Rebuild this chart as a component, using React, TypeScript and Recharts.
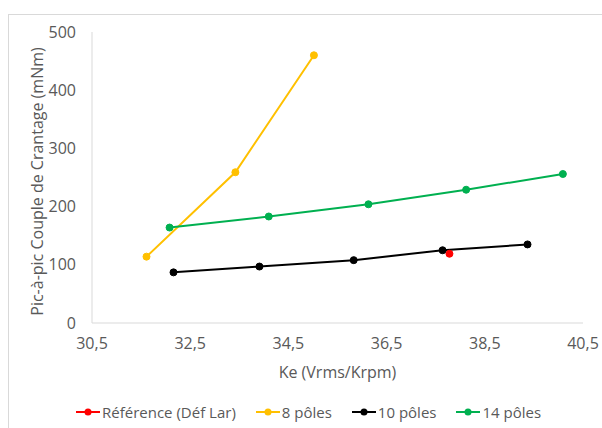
import React from "react";
import { LineChart, Line, XAxis, YAxis, Label } from "recharts";

const xTicks = [30.5, 32.5, 34.5, 36.5, 38.5, 40.5];
const yTicks = [0, 100, 200, 300, 400, 500];

const refX = [37.78];
const refY = [119];
const p8X = [31.61, 33.42, 35.02];
const p8Y = [114, 259, 460];
const p10X = [32.16, 33.91, 35.83, 37.64, 39.37];
const p10Y = [87, 97, 108, 125, 135];
const p14X = [32.08, 34.1, 36.13, 38.12, 40.09];
const p14Y = [164, 183, 204, 229, 256];

const zip = (xs: number[], ys: number[]) => xs.map((x, i) => ({ x, y: ys[i] }));

const series = [
  { name: "Référence (Déf Lar)", color: "#FF0000", data: zip(refX, refY) },
  { name: "8 pôles", color: "#FFC000", data: zip(p8X, p8Y) },
  { name: "10 pôles", color: "#000000", data: zip(p10X, p10Y) },
  { name: "14 pôles", color: "#00B050", data: zip(p14X, p14Y) },
];

const FONT = "'Open Sans', sans-serif";
const TEXT = "#595959";

export default function App() {
  return (
    <div style={{ position: "absolute", left: 0, top: 0, width: 602, height: 428, overflow: "hidden", background: "#fff", fontFamily: FONT }}>
      <div style={{ position: "absolute", left: 8, top: 14, width: 600, height: 420, border: "1px solid #d9d9d9" }} />
      <div style={{ position: "absolute", left: 0, top: 0 }}>
        <LineChart width={602} height={428} margin={{ top: 32, right: 19, bottom: 45, left: 0 }}>
          <XAxis
            type="number"
            dataKey="x"
            domain={[30.5, 40.5]}
            ticks={xTicks}
            tickFormatter={(v: number) => v.toFixed(1).replace(".", ",")}
            axisLine={{ stroke: "#d9d9d9" }}
            tickLine={false}
            tickMargin={9}
            height={60}
            tick={{ fill: TEXT, fontSize: 16, fontFamily: FONT }}
            allowDataOverflow
          >
            <Label value="Ke (Vrms/Krpm)" position="insideBottom" offset={5} fill={TEXT} fontSize={16} fontFamily={FONT} />
          </XAxis>
          <YAxis
            type="number"
            dataKey="y"
            domain={[0, 500]}
            ticks={yTicks}
            axisLine={{ stroke: "#d9d9d9" }}
            tickLine={false}
            tickMargin={10}
            width={92}
            tick={{ fill: TEXT, fontSize: 16, fontFamily: FONT }}
          >
            <Label value="Pic-à-pic Couple de Crantage (mNm)" angle={-90} position="center" dx={-9} dy={4} fill={TEXT} fontSize={16} fontFamily={FONT} />
          </YAxis>
          {series.map((s) => (
            <Line
              key={s.name}
              data={s.data}
              dataKey="y"
              name={s.name}
              stroke={s.color}
              strokeWidth={2}
              dot={{ r: 3.5, fill: s.color, stroke: s.color, strokeWidth: 1 }}
              isAnimationActive={false}
            />
          ))}
        </LineChart>
      </div>
      <div style={{ position: "absolute", left: 76, top: 401, display: "flex", alignItems: "center", gap: 20, color: TEXT, fontSize: 15, height: 22 }}>
        {series.map((s) => (
          <div key={s.name} style={{ display: "flex", alignItems: "center" }}>
            <svg width={24} height={10} style={{ marginRight: 2 }}>
              <line x1={0} y1={5} x2={24} y2={5} stroke={s.color} strokeWidth={2} />
              <circle cx={12} cy={5} r={3.5} fill={s.color} />
            </svg>
            <span>{s.name}</span>
          </div>
        ))}
      </div>
    </div>
  );
}
